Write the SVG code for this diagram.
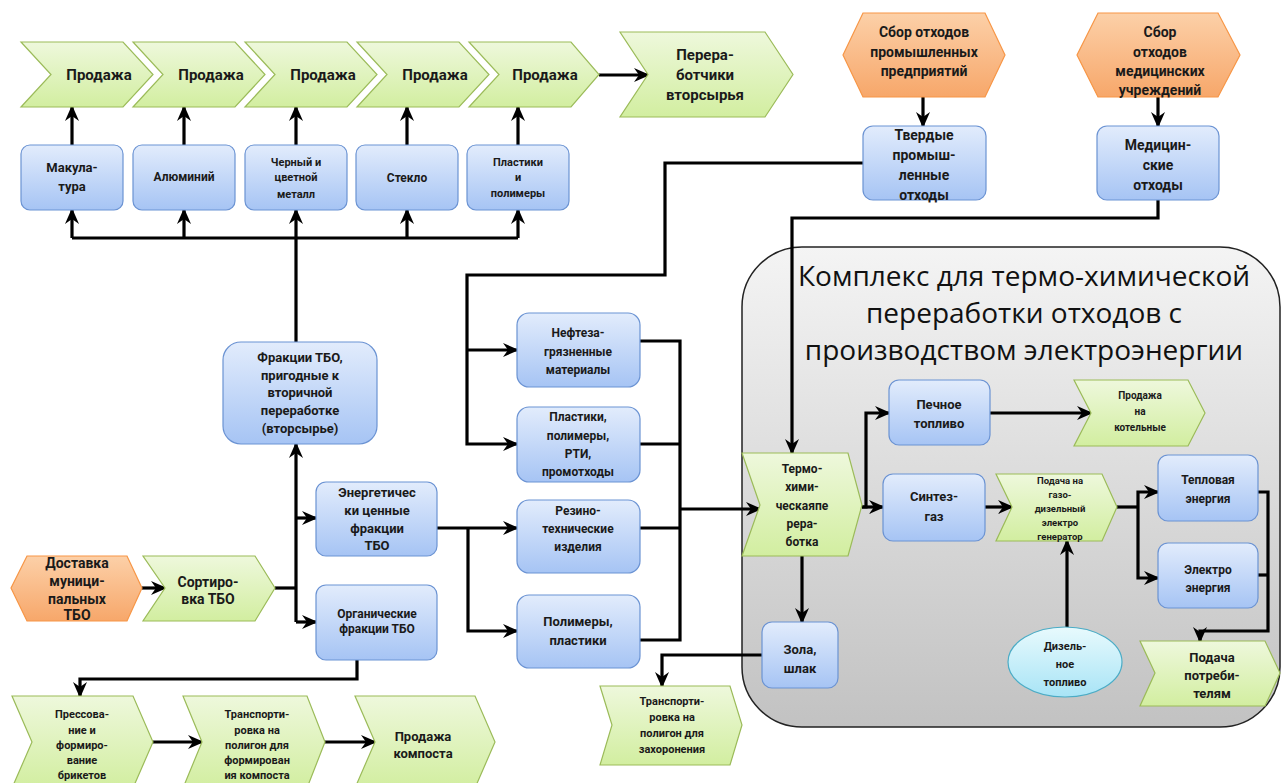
<svg xmlns="http://www.w3.org/2000/svg" width="1282" height="783" viewBox="0 0 1282 783">
<defs>
<linearGradient id="gG" x1="0" y1="0" x2="0" y2="1"><stop offset="0" stop-color="#eef8dc"/><stop offset="1" stop-color="#d2eea0"/></linearGradient>
<linearGradient id="gB" x1="0" y1="0" x2="0" y2="1"><stop offset="0" stop-color="#e2ecfc"/><stop offset="1" stop-color="#a6c4f4"/></linearGradient>
<linearGradient id="gO" x1="0" y1="0" x2="0" y2="1"><stop offset="0" stop-color="#fcd0a8"/><stop offset="1" stop-color="#f7a76a"/></linearGradient>
<linearGradient id="gC" x1="0" y1="0" x2="0" y2="1"><stop offset="0" stop-color="#e8fafd"/><stop offset="1" stop-color="#a8e4f6"/></linearGradient>
<linearGradient id="gK" x1="0" y1="0" x2="0" y2="1"><stop offset="0" stop-color="#f4f4f4"/><stop offset="1" stop-color="#c2c2c2"/></linearGradient>
<marker id="ar" markerUnits="userSpaceOnUse" markerWidth="16" markerHeight="16" viewBox="0 0 16 16" refX="14" refY="8" orient="auto">
<path d="M0,1 L16,8 L0,15 L5,8 z" fill="#000"/>
</marker>
<style>
.g{fill:url(#gG);stroke:#9bbb59;stroke-width:1.2}
.b{fill:url(#gB);stroke:#6b93d3;stroke-width:1.2}
.o{fill:url(#gO);stroke:#f79646;stroke-width:1.2}
.c{fill:url(#gC);stroke:#4bacc6;stroke-width:1.2}
.k{fill:url(#gK);stroke:#222;stroke-width:1.5}
.t{font-family:Roboto,"Liberation Sans","DejaVu Sans",sans-serif;font-weight:bold;text-anchor:middle;fill:#1a1a1a}
.s9{font-size:9.5px}.s10{font-size:10px}.s11{font-size:11px}.s12{font-size:12px}.s13{font-size:13px}.s14{font-size:14px}.s15{font-size:15px}
.title{font-family:"Open Sans","Liberation Sans",sans-serif;font-size:28px;text-anchor:middle;fill:#111}
#conn path{fill:none;stroke:#000;stroke-width:3.2}
#conn path.a{marker-end:url(#ar)}
</style>
</defs>
<rect width="1282" height="783" fill="#fff"/>

<g id="complex">
<rect class="k" x="742" y="247" width="538" height="480" rx="60"/>
<text class="title" x="1024" y="286">Комплекс для термо-химической</text>
<text class="title" x="1024" y="323">переработки отходов с</text>
<text class="title" x="1024" y="360">производством электроэнергии</text>
</g>

<g id="conn">
<path class="a" d="M72,145 V107"/>
<path class="a" d="M184,145 V107"/>
<path class="a" d="M296,145 V107"/>
<path class="a" d="M407,145 V107"/>
<path class="a" d="M518,145 V107"/>
<path class="a" d="M599,75 H648"/>
<path d="M72,238 H518"/>
<path class="a" d="M72,238 V210"/>
<path class="a" d="M184,238 V210"/>
<path class="a" d="M296,238 V210"/>
<path class="a" d="M407,238 V210"/>
<path class="a" d="M518,238 V210"/>
<path d="M296,238 V342"/>
<path class="a" d="M296,622 V444"/>
<path class="a" d="M296,518 H316"/>
<path class="a" d="M296,622 H316"/>
<path d="M275,588 H296"/>
<path class="a" d="M142,588 H165"/>
<path class="a" d="M357,660 V679 H80 V696"/>
<path class="a" d="M153,742 H202"/>
<path class="a" d="M325,742 H375"/>
<path class="a" d="M437,528 H517"/>
<path class="a" d="M468,528 V631 H517"/>
<path class="a" d="M863,163 H665 V275 H467 V444 H517"/>
<path class="a" d="M467,350 H517"/>
<path d="M640,341 H680 V640 H640"/>
<path d="M640,444 H680"/>
<path d="M640,528 H680"/>
<path class="a" d="M680,509 H760"/>
<path class="a" d="M923,97 V126"/>
<path class="a" d="M1158,97 V126"/>
<path class="a" d="M1158,200 V218 H792 V453"/>
<path class="a" d="M862,507 H866 V413 H889"/>
<path class="a" d="M862,507 H883"/>
<path class="a" d="M990,413 H1091"/>
<path class="a" d="M985,507 H1012"/>
<path d="M1117,507 H1138"/>
<path class="a" d="M1138,507 V492 H1158"/>
<path class="a" d="M1138,507 V578 H1158"/>
<path class="a" d="M1258,492 H1268 V631 H1200 V641"/>
<path d="M1258,575 H1268"/>
<path class="a" d="M1067,627 V541"/>
<path class="a" d="M802,556 V622"/>
<path class="a" d="M762,655 H662 V686"/>
</g>

<g id="sale1"><polygon class="g" points="21,42 123,42 153,74.5 123,107 21,107 51,74.5"/><text class="t s15" x="99" y="80">Продажа</text></g>
<g id="sale2"><polygon class="g" points="133,42 235,42 265,74.5 235,107 133,107 163,74.5"/><text class="t s15" x="211" y="80">Продажа</text></g>
<g id="sale3"><polygon class="g" points="245,42 347,42 377,74.5 347,107 245,107 275,74.5"/><text class="t s15" x="323" y="80">Продажа</text></g>
<g id="sale4"><polygon class="g" points="357,42 459,42 489,74.5 459,107 357,107 387,74.5"/><text class="t s15" x="435" y="80">Продажа</text></g>
<g id="sale5"><polygon class="g" points="469,42 571,42 599,74.5 571,107 469,107 499,74.5"/><text class="t s15" x="545" y="80">Продажа</text></g>
<g id="recyclers"><polygon class="g" points="620,32 765,32 793,74.5 765,117 620,117 648,74.5"/><text class="t s15"><tspan x="705" y="60">Перера-</tspan><tspan x="705" y="80">ботчики</tspan><tspan x="705" y="100">вторсырья</tspan></text></g>

<g id="paper"><rect class="b" x="21" y="145" width="102" height="65" rx="9"/><text class="t s13"><tspan x="72" y="172">Макула-</tspan><tspan x="72" y="191">тура</tspan></text></g>
<g id="alu"><rect class="b" x="133" y="145" width="102" height="65" rx="9"/><text class="t s12" x="184" y="181">Алюминий</text></g>
<g id="metal"><rect class="b" x="245" y="145" width="102" height="65" rx="9"/><text class="t s11"><tspan x="296" y="166">Черный и</tspan><tspan x="296" y="181">цветной</tspan><tspan x="296" y="198">металл</tspan></text></g>
<g id="glass"><rect class="b" x="356" y="145" width="102" height="65" rx="9"/><text class="t s12" x="407" y="182">Стекло</text></g>
<g id="plastic"><rect class="b" x="467" y="145" width="102" height="65" rx="9"/><text class="t s11"><tspan x="518" y="166">Пластики</tspan><tspan x="518" y="181">и</tspan><tspan x="518" y="197">полимеры</tspan></text></g>

<g id="fractions"><rect class="b" x="223" y="342" width="154" height="102" rx="18"/><text class="t s13"><tspan x="300" y="362">Фракции ТБО,</tspan><tspan x="300" y="380">пригодные к</tspan><tspan x="300" y="397">вторичной</tspan><tspan x="300" y="415">переработке</tspan><tspan x="300" y="433">(вторсырье)</tspan></text></g>
<g id="delivery"><polygon class="o" points="11,588 27,556 127,556 142,588 127,621 27,621"/><text class="t s14"><tspan x="77" y="568">Доставка</tspan><tspan x="77" y="586">муници-</tspan><tspan x="77" y="604">пальных</tspan><tspan x="77" y="620">ТБО</tspan></text></g>
<g id="sorting"><polygon class="g" points="143,556 255,556 275,588 255,621 143,621 165,588"/><text class="t s14"><tspan x="208" y="587">Сортиро-</tspan><tspan x="208" y="604">вка ТБО</tspan></text></g>
<g id="energy"><rect class="b" x="316" y="482" width="121" height="74" rx="10"/><text class="t s13"><tspan x="377" y="497">Энергетичес</tspan><tspan x="377" y="515">ки ценные</tspan><tspan x="377" y="533">фракции</tspan><tspan x="377" y="550">ТБО</tspan></text></g>
<g id="organic"><rect class="b" x="316" y="585" width="121" height="75" rx="10"/><text class="t s12"><tspan x="377" y="618">Органические</tspan><tspan x="377" y="633">фракции ТБО</tspan></text></g>

<g id="press"><polygon class="g" points="12,696 133,696 153,742 133,788 12,788 32,742"/><text class="t s11"><tspan x="82" y="718">Прессова-</tspan><tspan x="82" y="734">ние и</tspan><tspan x="82" y="749">формиро-</tspan><tspan x="82" y="764">вание</tspan><tspan x="82" y="779">брикетов</tspan></text></g>
<g id="transport1"><polygon class="g" points="183,696 307,696 325,742 307,788 183,788 202,742"/><text class="t s11"><tspan x="257" y="718">Транспорти-</tspan><tspan x="257" y="734">ровка на</tspan><tspan x="257" y="749">полигон для</tspan><tspan x="257" y="764">формирован</tspan><tspan x="257" y="779">ия компоста</tspan></text></g>
<g id="compost"><polygon class="g" points="355,696 475,696 495,742 475,788 355,788 375,742"/><text class="t s13"><tspan x="423" y="741">Продажа</tspan><tspan x="423" y="758">компоста</tspan></text></g>

<g id="oil"><rect class="b" x="517" y="313" width="123" height="74" rx="12"/><text class="t s12"><tspan x="578" y="337">Нефтеза-</tspan><tspan x="578" y="356">грязненные</tspan><tspan x="578" y="374">материалы</tspan></text></g>
<g id="plast2"><rect class="b" x="517" y="407" width="123" height="75" rx="12"/><text class="t s12"><tspan x="578" y="421">Пластики,</tspan><tspan x="578" y="440">полимеры,</tspan><tspan x="578" y="458">РТИ,</tspan><tspan x="578" y="476">промотходы</tspan></text></g>
<g id="rubber"><rect class="b" x="517" y="500" width="123" height="73" rx="12"/><text class="t s12"><tspan x="578" y="515">Резино-</tspan><tspan x="578" y="533">технические</tspan><tspan x="578" y="551">изделия</tspan></text></g>
<g id="poly"><rect class="b" x="517" y="595" width="123" height="73" rx="12"/><text class="t s13"><tspan x="578" y="626">Полимеры,</tspan><tspan x="578" y="645">пластики</tspan></text></g>

<g id="indcol"><polygon class="o" points="843,55 863,13 985,13 1005,55 985,97 863,97"/><text class="t s14"><tspan x="924" y="37">Сбор отходов</tspan><tspan x="924" y="57">промышленных</tspan><tspan x="924" y="76">предприятий</tspan></text></g>
<g id="medcol"><polygon class="o" points="1077,55 1098,13 1218,13 1240,55 1218,97 1098,97"/><text class="t s14"><tspan x="1160" y="37">Сбор</tspan><tspan x="1160" y="57">отходов</tspan><tspan x="1160" y="76">медицинских</tspan><tspan x="1160" y="95">учреждений</tspan></text></g>
<g id="indwaste"><rect class="b" x="863" y="126" width="123" height="74" rx="10"/><text class="t s14"><tspan x="924" y="140">Твердые</tspan><tspan x="924" y="160">промыш-</tspan><tspan x="924" y="180">ленные</tspan><tspan x="924" y="200">отходы</tspan></text></g>
<g id="medwaste"><rect class="b" x="1097" y="126" width="122" height="74" rx="10"/><text class="t s14"><tspan x="1158" y="150">Медицин-</tspan><tspan x="1158" y="170">ские</tspan><tspan x="1158" y="190">отходы</tspan></text></g>

<g id="thermo"><polygon class="g" points="742,453 848,453 862,505 848,556 742,556 760,505"/><text class="t s12"><tspan x="802" y="473">Термо-</tspan><tspan x="802" y="491">хими-</tspan><tspan x="802" y="510">ческаяпе</tspan><tspan x="802" y="528">рера-</tspan><tspan x="802" y="546">ботка</tspan></text></g>
<g id="fuel"><rect class="b" x="889" y="380" width="101" height="65" rx="10"/><text class="t s13"><tspan x="939" y="409">Печное</tspan><tspan x="939" y="428">топливо</tspan></text></g>
<g id="boiler"><polygon class="g" points="1074,380 1188,380 1205,413 1188,446 1074,446 1091,413"/><text class="t s10"><tspan x="1140" y="399">Продажа</tspan><tspan x="1140" y="415">на</tspan><tspan x="1140" y="431">котельные</tspan></text></g>
<g id="syngas"><rect class="b" x="883" y="474" width="102" height="67" rx="10"/><text class="t s13"><tspan x="934" y="501">Синтез-</tspan><tspan x="934" y="521">газ</tspan></text></g>
<g id="generator"><polygon class="g" points="996,474 1102,474 1117,507 1102,541 996,541 1012,507"/><text class="t s9"><tspan x="1060" y="484">Подача на</tspan><tspan x="1060" y="498">газо-</tspan><tspan x="1060" y="512">дизельный</tspan><tspan x="1060" y="526">электро</tspan><tspan x="1060" y="540">генератор</tspan></text></g>
<g id="heat"><rect class="b" x="1158" y="455" width="100" height="66" rx="10"/><text class="t s12"><tspan x="1208" y="484">Тепловая</tspan><tspan x="1208" y="503">энергия</tspan></text></g>
<g id="elec"><rect class="b" x="1158" y="543" width="100" height="65" rx="10"/><text class="t s12"><tspan x="1208" y="574">Электро</tspan><tspan x="1208" y="592">энергия</tspan></text></g>
<g id="diesel"><ellipse class="c" cx="1065" cy="662" rx="57" ry="35"/><text class="t s11"><tspan x="1065" y="650">Дизель-</tspan><tspan x="1065" y="668">ное</tspan><tspan x="1065" y="686">топливо</tspan></text></g>
<g id="consumers"><polygon class="g" points="1140,641 1265,641 1280,673 1265,706 1140,706 1155,673"/><text class="t s13"><tspan x="1212" y="662">Подача</tspan><tspan x="1212" y="680">потреби-</tspan><tspan x="1212" y="698">телям</tspan></text></g>
<g id="ash"><rect class="b" x="762" y="622" width="76" height="66" rx="10"/><text class="t s13"><tspan x="800" y="654">Зола,</tspan><tspan x="800" y="673">шлак</tspan></text></g>
<g id="transport2"><polygon class="g" points="600,686 730,686 742,725 730,765 600,765 612,725"/><text class="t s11"><tspan x="672" y="705">Транспорти-</tspan><tspan x="672" y="721">ровка на</tspan><tspan x="672" y="737">полигон для</tspan><tspan x="672" y="753">захоронения</tspan></text></g>
</svg>
